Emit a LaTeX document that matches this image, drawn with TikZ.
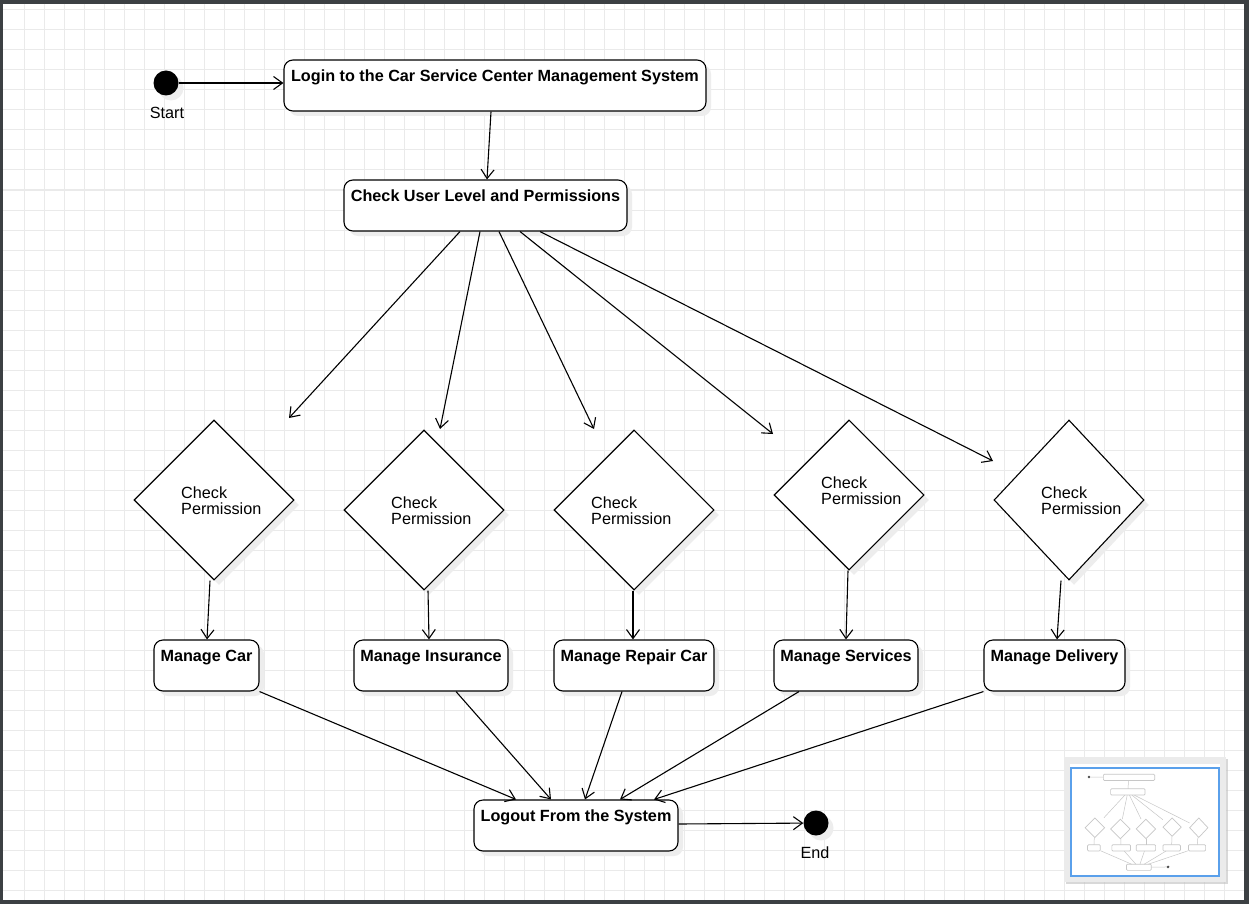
\documentclass[tikz,border=0pt]{standalone}
\usepackage{fontspec}
\setmainfont{Liberation Sans}
\usetikzlibrary{shapes.geometric, arrows.meta, shadows}
\definecolor{framegray}{RGB}{60,64,67}
\definecolor{gridgray}{RGB}{234,234,234}
\definecolor{viewblue}{RGB}{90,160,235}
\begin{document}
\begin{tikzpicture}[x=1pt,y=-1pt,
  every node/.style={font=\fontsize{16.2}{16}\selectfont},
  boxshadow/.style={drop shadow={shadow xshift=5pt,shadow yshift=-5pt,fill=black!7,opacity=1}},
  activity/.style={draw,rounded corners=9pt,fill=white,line width=1.1pt,boxshadow,inner sep=0pt,
    text height=21.5pt,text depth=29.5pt,font=\fontsize{16.2}{16}\selectfont\bfseries},
  check/.style={draw,diamond,fill=white,line width=1.1pt,boxshadow,inner sep=0pt},
  checktext/.style={anchor=west,align=left,inner sep=0pt},
  terminal/.style={circle,fill=black,minimum size=25pt,inner sep=0pt,boxshadow},
  flow/.style={-{Straight Barb[length=9pt,width=13pt]},line width=1.1pt},
  gridline/.style={gridgray,line width=1pt},
  thumb/.style={black!22,line width=0.7pt}]
\useasboundingbox (0,0) rectangle (1249,904);
\fill[framegray] (0,0) rectangle (1249,904);
\fill[white] (3,4) rectangle (1244,900);
\foreach \gx in {24,44,...,1224} \draw[gridline] (\gx,4) -- (\gx,900);
\foreach \gy in {10,30,...,890} \draw[gridline] (3,\gy) -- (1244,\gy);

\node[terminal] (start) at (166,83) {};
\node (startlbl) at (167,113) {Start};
\node[activity,minimum width=422pt] (login) at (495,85.5) {Login to the Car Service Center Management System};
\node[activity,minimum width=283pt] (cuser) at (485.5,205.5) {Check User Level and Permissions};

\node[check,minimum width=160pt,minimum height=160pt] (chk1) at (214,500) {};
\node[check,minimum width=160pt,minimum height=160pt] (chk2) at (424,510) {};
\node[check,minimum width=160pt,minimum height=160pt] (chk3) at (634,510) {};
\node[check,minimum width=150pt,minimum height=150pt] (chk4) at (849,495) {};
\node[check,minimum width=150pt,minimum height=160pt] (chk5) at (1069,500) {};
\node[checktext] (chk1txt) at (181,501) {Check\\Permission};
\node[checktext] (chk2txt) at (391,511) {Check\\Permission};
\node[checktext] (chk3txt) at (591,511) {Check\\Permission};
\node[checktext] (chk4txt) at (821,491) {Check\\Permission};
\node[checktext] (chk5txt) at (1041,501) {Check\\Permission};

\node[activity,minimum width=105pt] (mcar) at (206.5,665.5) {Manage Car};
\node[activity,minimum width=154pt] (mins) at (431,665.5) {Manage Insurance};
\node[activity,minimum width=160pt] (mrep) at (634,665.5) {Manage Repair Car};
\node[activity,minimum width=144pt] (mserv) at (846,665.5) {Manage Services};
\node[activity,minimum width=141pt] (mdel) at (1054.5,665.5) {Manage Delivery};

\node[activity,minimum width=204pt] (logout) at (576,825.5) {Logout From the System};
\node[terminal] (finish) at (816,823) {};
\node (finishlbl) at (815,853) {End};

\coordinate (tip1) at (289,418);
\coordinate (tip2) at (440,429);
\coordinate (tip3) at (594,429);
\coordinate (tip4) at (773,434);
\coordinate (tip5) at (993,461);

\draw[flow] (start) -- (login.west |- start);
\draw[flow] ([xshift=-4pt]login.south) -- ([xshift=1.5pt]cuser.north);
\draw[flow] ([xshift=-25.5pt]cuser.south) -- (tip1);
\draw[flow] ([xshift=-5.5pt]cuser.south) -- (tip2);
\draw[flow] ([xshift=13.5pt]cuser.south) -- (tip3);
\draw[flow] ([xshift=34.5pt]cuser.south) -- (tip4);
\draw[flow] ([xshift=54.5pt]cuser.south) -- (tip5);

\draw[flow] ([xshift=-4pt]chk1.south) -- ([xshift=0.5pt]mcar.north);
\draw[flow] ([xshift=4pt]chk2.south) -- ([xshift=-2pt]mins.north);
\draw[flow] ([xshift=-1pt]chk3.south) -- ([xshift=-1pt]mrep.north);
\draw[flow] ([xshift=-1pt]chk4.south) -- (mserv.north);
\draw[flow] ([xshift=-8pt]chk5.south) -- ([xshift=2.5pt]mdel.north);

\draw[flow] (mcar.south east) -- ([xshift=-60pt]logout.north);
\draw[flow] ([xshift=25pt]mins.south) -- ([xshift=-25pt]logout.north);
\draw[flow] ([xshift=-12pt]mrep.south) -- ([xshift=9pt]logout.north);
\draw[flow] ([xshift=-47pt]mserv.south) -- ([xshift=44pt]logout.north);
\draw[flow] (mdel.south west) -- ([xshift=78pt]logout.north);
\draw[flow] ([yshift=1.5pt]logout.east) -- (finish);

% overview panel
\path[fill=black!8,drop shadow={shadow xshift=2pt,shadow yshift=-2pt,fill=black!25,opacity=0.6}] (1064,757) rectangle (1226,882);
\fill[white] (1070,764) rectangle (1220,876);
\begin{scope}[shift={(1068.8,766.9)},scale=0.1216]
\foreach \xa/\ya/\xb/\yb in {284/60/706/111,344/180/627/231,154/640/259/691,354/640/508/691,
  554/640/714/691,774/640/918/691,984/640/1125/691,474/800/678/851}
  \draw[thumb,rounded corners=1pt] (\xa,\ya) rectangle (\xb,\yb);
\foreach \cx/\cy/\rx/\ry in {214/500/80/80,424/510/80/80,634/510/80/80,849/495/75/75,1069/500/75/80}
  \draw[thumb] (\cx-\rx,\cy) -- (\cx,\cy-\ry) -- (\cx+\rx,\cy) -- (\cx,\cy+\ry) -- cycle;
\foreach \xa/\ya/\xb/\yb in {180/83/284/84,491/112/487/180,460/233/289/418,480/233/440/429,
  499/233/594/429,520/233/773/434,540/233/993/461,210/582/207/640,428/592/429/640,633/590/633/640,
  848/572/846/640,1061/582/1057/640,260/689/516/800,456/692/551/800,622/692/585/800,
  799/692/620/800,983/689/654/800,679/824/806/823}
  \draw[thumb,line width=0.5pt] (\xa,\ya) -- (\xb,\yb);
\fill[black!70] (166,83) circle (12);
\fill[black!70] (816,823) circle (12);
\end{scope}
\draw[viewblue,line width=1.5pt] (1071,768) rectangle (1219,876);
\end{tikzpicture}
\end{document}
